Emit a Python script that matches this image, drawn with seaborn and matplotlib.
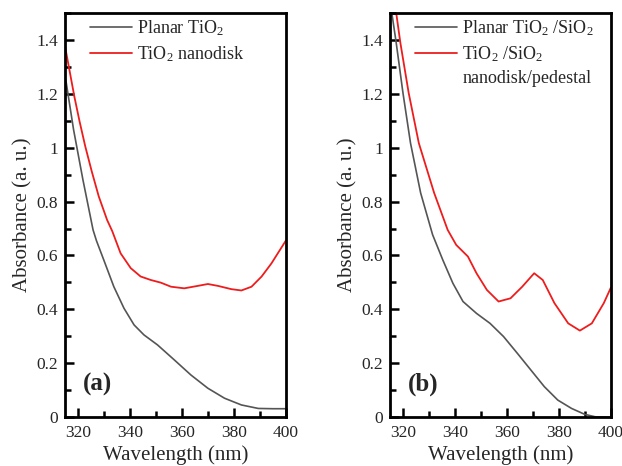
import numpy as np
import pandas as pd
import matplotlib
matplotlib.use("Agg")
import matplotlib.pyplot as plt
import seaborn as sns
from matplotlib.ticker import MultipleLocator


# =========================================
# DATA
# =========================================

wl_a_planar = [315, 315.5, 318.3, 321.9, 325.8, 327.1, 329.9, 333.8, 337.7,
               341.6, 345.4, 350.6, 357.1, 363.5, 370, 376.4, 382.9, 389.4,
               395, 400]
abs_a_planar = [1.26, 1.24, 1.067, 0.881, 0.695, 0.655, 0.584, 0.484, 0.404,
                0.342, 0.305, 0.268, 0.212, 0.156, 0.107, 0.07, 0.045, 0.032,
                0.031, 0.031]

wl_a_disk = [315, 316.2, 318.6, 320.6, 322.8, 325.3, 328, 331.2, 333.2, 336.4,
             340.3, 344.1, 348, 351.9, 355.8, 360.9, 366.1, 370, 373.9, 379,
             382.9, 386.8, 390.7, 394.5, 400]
abs_a_disk = [1.377, 1.315, 1.19, 1.098, 1.005, 0.912, 0.819, 0.732, 0.69,
              0.608, 0.553, 0.522, 0.509, 0.499, 0.484, 0.478, 0.487, 0.494,
              0.487, 0.475, 0.47, 0.484, 0.522, 0.571, 0.655]

wl_b_planar = [315, 315.7, 317.4, 320, 322.9, 326.8, 331.4, 335.3, 339.2,
               343.1, 348.3, 353.5, 358.7, 364, 369.2, 374.4, 379.6, 384.9,
               390, 394, 400]
abs_b_planar = [1.55, 1.5, 1.389, 1.203, 1.017, 0.832, 0.677, 0.584, 0.497,
                0.429, 0.385, 0.348, 0.299, 0.237, 0.175, 0.113, 0.063, 0.032,
                0.01, 0.001, 0.0]

wl_b_disk = [315, 317.4, 319, 322.2, 326.1, 332, 337.2, 340.5, 345, 348.3,
             352.3, 356.8, 361.4, 365.9, 370.5, 373.8, 378.3, 383.6, 388.1,
             392.7, 397.3, 400]
abs_b_disk = [1.63, 1.5, 1.389, 1.203, 1.017, 0.832, 0.695, 0.639, 0.596,
              0.534, 0.472, 0.429, 0.441, 0.484, 0.534, 0.509, 0.423, 0.348,
              0.321, 0.348, 0.423, 0.48]

labels_a = [r"Planar TiO$_\mathregular{2}$", r"TiO$_\mathregular{2}$ nanodisk"]
labels_b = [r"Planar TiO$_\mathregular{2}$ /SiO$_\mathregular{2}$",
            r"TiO$_\mathregular{2}$ /SiO$_\mathregular{2}$",
            "nanodisk/pedestal"]
panel_tags = ["(a)", "(b)"]

gray = "#555555"
red = "#ee1c1c"


# =========================================
# STYLE
# =========================================

sns.set_style("ticks")
plt.rcParams["font.family"] = ["Liberation Serif", "DejaVu Serif"]
plt.rcParams["mathtext.fontset"] = "custom"
plt.rcParams["mathtext.rm"] = "Liberation Serif"
plt.rcParams["mathtext.it"] = "Liberation Serif:italic"
plt.rcParams["mathtext.bf"] = "Liberation Serif:bold"


# =========================================
# FIGURE
# =========================================

fig = plt.figure(figsize=(6.22, 4.66), dpi=100)
ax_a = fig.add_axes([0.1045, 0.105, 0.355, 0.867])
ax_b = fig.add_axes([0.627, 0.105, 0.355, 0.867])

panels = [
    (ax_a, wl_a_planar, abs_a_planar, wl_a_disk, abs_a_disk, labels_a),
    (ax_b, wl_b_planar, abs_b_planar, wl_b_disk, abs_b_disk, labels_b),
]

for i, (ax, x1, y1, x2, y2, labs) in enumerate(panels):
    df1 = pd.DataFrame({"wl": x1, "abs": y1})
    df2 = pd.DataFrame({"wl": x2, "abs": y2})

    sns.lineplot(data=df1, x="wl", y="abs", ax=ax, color=gray,
                 linewidth=1.2, label=labs[0], solid_joinstyle="round")
    sns.lineplot(data=df2, x="wl", y="abs", ax=ax, color=red,
                 linewidth=1.3, label=labs[1], solid_joinstyle="round")
    if len(labs) > 2:
        # second line of the red entry, no handle
        ax.plot([], [], color="none", label=labs[2])

    ax.set_xlim(315, 400)
    ax.set_ylim(0, 1.5)

    ax.xaxis.set_minor_locator(MultipleLocator(10))
    ax.yaxis.set_minor_locator(MultipleLocator(0.1))
    ax.set_xticks([320, 340, 360, 380, 400])
    ax.set_yticks([0, 0.2, 0.4, 0.6, 0.8, 1.0, 1.2, 1.4])
    ax.set_yticklabels(["0", "0.2", "0.4", "0.6", "0.8", "1", "1.2", "1.4"])

    ax.tick_params(which="both", direction="in", top=False, right=False,
                   labelsize=12.5, width=1.8, color="black")
    ax.tick_params(which="major", length=6.5)
    ax.tick_params(which="minor", length=4)
    ax.tick_params(axis="x", which="both", pad=6)
    ax.tick_params(axis="y", which="both", pad=5)

    for sp in ax.spines.values():
        sp.set_visible(True)
        sp.set_linewidth(2.0)
        sp.set_color("black")

    ax.set_xlabel("Wavelength (nm)", fontsize=15, labelpad=3)
    ax.set_ylabel("Absorbance (a. u.)", fontsize=15, labelpad=3)

    ax.legend(loc="upper left", bbox_to_anchor=(0.062, 1.013), frameon=False,
              fontsize=13, handlelength=2.35, handletextpad=0.3,
              labelspacing=0.33, borderaxespad=0.2)

    ax.text(0.08, 0.08, panel_tags[i], transform=ax.transAxes,
            fontsize=18, fontweight="bold", ha="left", va="center")

plt.savefig("out.png", dpi=100)
